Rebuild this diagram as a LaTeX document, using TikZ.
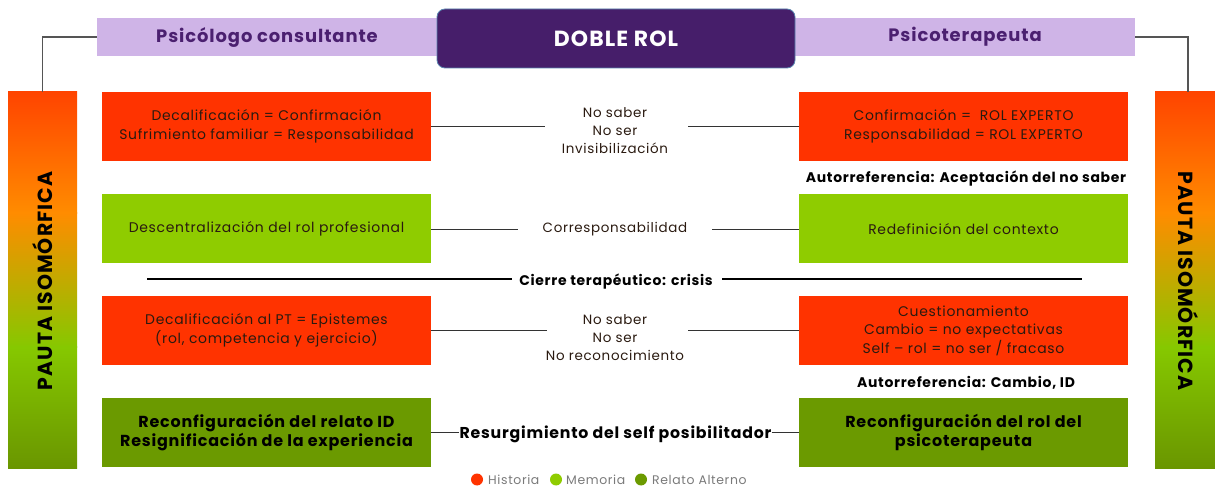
\documentclass[tikz,border=0pt]{standalone}
\usepackage{fontspec}
\setmainfont{Poppins}[LetterSpace=5]
\definecolor{hdrlight}{HTML}{CFB4E7}
\definecolor{hdrtext}{HTML}{4B2070}
\definecolor{dobfill}{HTML}{461E6A}
\definecolor{dobedge}{HTML}{5A86B0}
\definecolor{histred}{HTML}{FF3300}
\definecolor{memgreen}{HTML}{8FCC00}
\definecolor{reldark}{HTML}{6B9A00}
\definecolor{txtdark}{HTML}{2A1A10}
\definecolor{legtext}{HTML}{7A7A7A}
\definecolor{elbow}{HTML}{555555}
\definecolor{gtop}{HTML}{FF4400}
\definecolor{gorange}{HTML}{FF8C00}
\definecolor{gyellow}{HTML}{C8B000}
\definecolor{glime}{HTML}{86C800}
\definecolor{gbottom}{HTML}{6A9600}
\tikzset{
  hdrbar/.style={fill=hdrlight, draw=none, minimum height=38bp, minimum width=340bp, inner sep=0pt,
    text=hdrtext, font=\fontsize{18}{21}\selectfont\bfseries},
  rowbox/.style={draw=none, minimum width=329bp, minimum height=69bp, inner sep=0pt, align=center,
    text=txtdark, font=\fontsize{14}{18.5}\selectfont},
  redbox/.style={rowbox, fill=histred},
  limebox/.style={rowbox, fill=memgreen},
  darkbox/.style={rowbox, fill=reldark, text=black, font=\fontsize{16}{19.5}\selectfont\bfseries},
  midtext/.style={align=center, inner sep=0pt, text=txtdark, font=\fontsize{13.5}{18}\selectfont},
  boldlabel/.style={inner sep=0pt, text=black, font=\fontsize{14}{16}\selectfont\bfseries},
  link/.style={draw=black!80, line width=0.9bp},
  sepline/.style={draw=black, line width=2.2bp},
  elbowline/.style={draw=elbow, line width=1.6bp},
  pauta/.style={inner sep=0pt, text=black, font=\fontsize{20.5}{23}\selectfont\bfseries},
  legdot/.style={circle, inner sep=0pt, minimum size=12bp},
  legtxt/.style={inner sep=0pt, anchor=west, text=legtext, font=\fontsize{12.5}{14}\selectfont}
}
\begin{document}
\begin{tikzpicture}[x=1bp,y=-1bp]
\useasboundingbox (0,0) rectangle (1215,488);
% gradient bars
\foreach \xa/\xb in {8/77, 1155/1224}{
  \shade[top color=gtop, bottom color=gorange] (\xa,92) rectangle (\xb,213.5);
  \shade[top color=gorange, middle color=gyellow, bottom color=glime] (\xa,213) rectangle (\xb,347.5);
  \shade[top color=glime, bottom color=gbottom] (\xa,347) rectangle (\xb,468);
}
\coordinate (lbartop) at (42.5,92);
\coordinate (rbartop) at (1188,92);
\node[pauta, rotate=90] (lpauta) at (42.5,281) {PAUTA ISOMÓRFICA};
\node[pauta, rotate=-90] (rpauta) at (1188,281) {PAUTA ISOMÓRFICA};
% headers
\node[hdrbar] (hleft) at (267,37) {Psicólogo consultante};
\node[hdrbar] (hright) at (965,37) {Psicoterapeuta};
\node[draw=dobedge, line width=0.8bp, fill=dobfill, rounded corners=8bp, minimum width=358bp, minimum height=59bp,
  inner sep=0pt, text=white, font=\fontsize{22}{26}\selectfont\bfseries] (doble) at (616,38.5) {DOBLE ROL};
\draw[elbowline] (hleft.west) -| (lbartop);
\draw[elbowline] (hright.east) -| (rbartop);
% row 1
\node[redbox] (l1) at (266.5,126.5) {Decalificación = Confirmación\\Sufrimiento familiar = Responsabilidad};
\node[redbox] (r1) at (963.5,126.5) {Confirmación =\ \ ROL EXPERTO\\Responsabilidad = ROL EXPERTO};
\node[midtext] (m1) at (615,130.5) {No saber\\No ser\\Invisibilización};
\coordinate (m1a) at (545,126.5);
\coordinate (m1b) at (688,126.5);
\draw[link] (l1.east) -- (m1a);
\draw[link] (m1b) -- (r1.west);
\node[boldlabel] (auto1) at (966,179) {Autorreferencia: Aceptación del no saber};
% row 2
\node[limebox] (l2) at (266.5,229) {Descentralización del rol profesional};
\node[limebox] (r2) at (963.5,229) {Redefinición del contexto};
\node[midtext] (m2) at (615,229) {Corresponsabilidad};
\coordinate (m2a) at (518,229);
\coordinate (m2b) at (712,229);
\draw[link] (l2.east) -- (m2a);
\draw[link] (m2b) -- (r2.west);
% separator
\node[boldlabel] (cierre) at (616,282) {Cierre terapéutico: crisis};
\coordinate (sepa) at (147,279);
\coordinate (sepb) at (512,279);
\coordinate (sepc) at (722,279);
\coordinate (sepd) at (1082,279);
\draw[sepline] (sepa) -- (sepb);
\draw[sepline] (sepc) -- (sepd);
% row 3
\node[redbox] (l3) at (266.5,330.5) {Decalificación al PT = Epistemes\\(rol, competencia y ejercicio)};
\node[redbox] (r3) at (963.5,330.5) {Cuestionamiento\\Cambio = no expectativas\\Self -- rol = no ser / fracaso};
\node[midtext] (m3) at (615,338) {No saber\\No ser\\No reconocimiento};
\coordinate (m3a) at (547,330.5);
\coordinate (m3b) at (688,330.5);
\draw[link] (l3.east) -- (m3a);
\draw[link] (m3b) -- (r3.west);
\node[boldlabel] (auto2) at (966,383) {Autorreferencia: Cambio, ID};
% row 4
\node[darkbox] (l4) at (266.5,432.5) {Reconfiguración del relato ID\\Resignificación de la experiencia};
\node[darkbox] (r4) at (963.5,432.5) {Reconfiguración del rol del\\psicoterapeuta};
\node[boldlabel, font=\fontsize{15.8}{18}\selectfont\bfseries] (m4) at (615.5,434) {Resurgimiento del self posibilitador};
\draw[link] (l4.east) -- (l4.east -| m4.west);
\draw[link] (r4.west -| m4.east) -- (r4.west);
% legend
\node[legdot, fill=histred] (d1) at (477,479.5) {};
\node[legtxt] (t1) at (488,480) {Historia};
\node[legdot, fill=memgreen] (d2) at (556,479.5) {};
\node[legtxt] (t2) at (566,480) {Memoria};
\node[legdot, fill=reldark] (d3) at (641,479.5) {};
\node[legtxt] (t3) at (652,480) {Relato Alterno};
\end{tikzpicture}
\end{document}
